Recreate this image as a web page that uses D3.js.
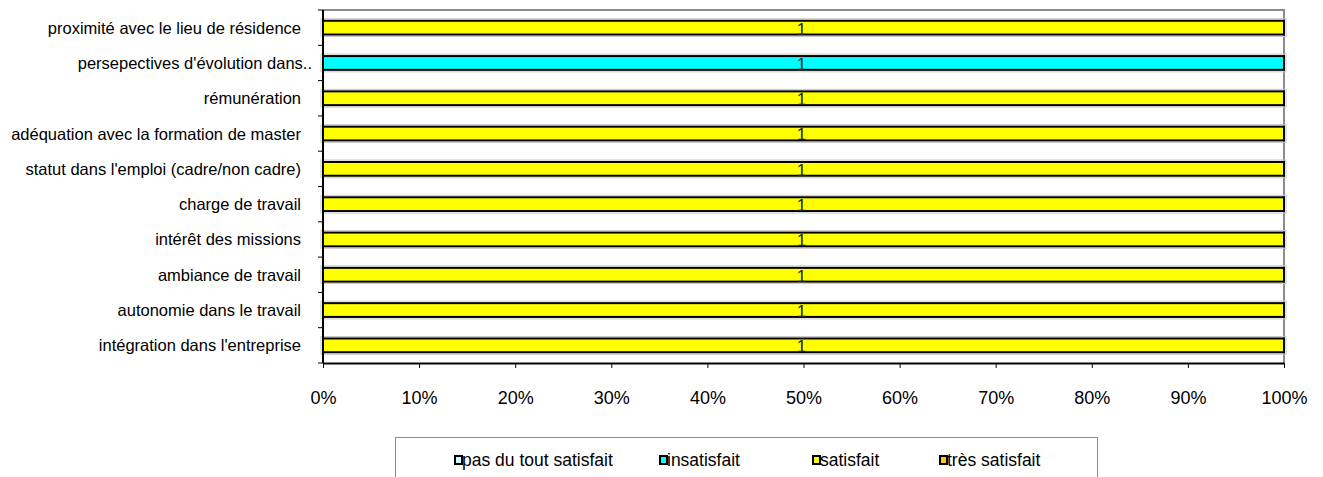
<!DOCTYPE html>
<html>
<head>
<meta charset="utf-8">
<script src="https://cdn.jsdelivr.net/npm/d3@7"></script>
<style>
  body { margin: 0; background: #fff; }
  text { font-family: "Liberation Sans", Arial, sans-serif; }
</style>
</head>
<body>
<svg width="1323" height="477"></svg>
<script>
// categories, top to bottom
const categories = [
  "proximité avec le lieu de résidence",
  "persepectives d'évolution dans..",
  "rémunération",
  "adéquation avec la formation de master",
  "statut dans l'emploi (cadre/non cadre)",
  "charge de travail",
  "intérêt des missions",
  "ambiance de travail",
  "autonomie dans le travail",
  "intégration dans l'entreprise"
];
// series
const seriesNames = ["pas du tout satisfait", "insatisfait", "satisfait", "très satisfait"];
const seriesColors = ["#ccffff", "#00ffff", "#ffff00", "#ffcc00"];
// counts per category for each series
const pasDuTout   = [0, 0, 0, 0, 0, 0, 0, 0, 0, 0];
const insatisfait = [0, 1, 0, 0, 0, 0, 0, 0, 0, 0];
const satisfait   = [1, 0, 1, 1, 1, 1, 1, 1, 1, 1];
const tresSatisf  = [0, 0, 0, 0, 0, 0, 0, 0, 0, 0];
const xTicks = [0, 0.1, 0.2, 0.3, 0.4, 0.5, 0.6, 0.7, 0.8, 0.9, 1];

const table = categories.map((c, i) => ({
  cat: c,
  "pas du tout satisfait": pasDuTout[i],
  "insatisfait": insatisfait[i],
  "satisfait": satisfait[i],
  "très satisfait": tresSatisf[i]
}));

const svg = d3.select("svg");

// plot area
const plotLeft = 323, plotRight = 1284, plotTop = 10, plotBottom = 363;

const x = d3.scaleLinear().domain([0, 1]).range([plotLeft, plotRight]);
const y = d3.scaleBand().domain(categories).range([plotTop, plotBottom])
  .paddingInner(0.61).paddingOuter(0.305);
const color = d3.scaleOrdinal().domain(seriesNames).range(seriesColors);

const stacked = d3.stack().keys(seriesNames).offset(d3.stackOffsetExpand)(table);

// plot border (grey, top + right)
svg.append("path")
  .attr("d", `M${plotLeft},${plotTop}H${plotRight}V${plotBottom}`)
  .attr("fill", "none")
  .attr("stroke", "#8c8c8c")
  .attr("stroke-width", 2);

// bars
const layers = svg.append("g").selectAll("g")
  .data(stacked)
  .join("g")
  .attr("fill", (d) => color(d.key));

layers.selectAll("rect.halo")
  .data((d) => d.filter((s) => s[1] - s[0] > 0))
  .join("rect")
  .attr("class", "halo")
  .attr("x", (d) => x(d[0]) - 2)
  .attr("y", (d) => y(d.data.cat) - 2)
  .attr("width", (d) => x(d[1]) - x(d[0]) + 4)
  .attr("height", y.bandwidth() + 4)
  .attr("fill", "none")
  .attr("stroke", "#c8c8c8")
  .attr("stroke-width", 1);

layers.selectAll("rect.bar")
  .data((d) => d.filter((s) => s[1] - s[0] > 0))
  .join("rect")
  .attr("class", "bar")
  .attr("x", (d) => x(d[0]))
  .attr("y", (d) => y(d.data.cat))
  .attr("width", (d) => x(d[1]) - x(d[0]))
  .attr("height", y.bandwidth())
  .attr("stroke", "#000")
  .attr("stroke-width", 2);

// value labels "1"
stacked.forEach((layer) => {
  svg.append("g").selectAll("text")
    .data(layer.filter((s) => s[1] - s[0] > 0))
    .join("text")
    .attr("x", (d) => x((d[0] + d[1]) / 2) - 2)
    .attr("y", (d) => y(d.data.cat) + y.bandwidth())
    .attr("text-anchor", "middle")
    .attr("font-size", 17)
    .attr("fill", "#222")
    .text((d) => d.data[layer.key]);
});

// left axis
const yAxis = svg.append("g")
  .attr("transform", `translate(${plotLeft},0)`);
yAxis.append("line")
  .attr("x1", 0).attr("x2", 0).attr("y1", plotTop).attr("y2", plotBottom)
  .attr("stroke", "#000").attr("stroke-width", 2);
yAxis.selectAll("line.tick")
  .data(d3.range(categories.length + 1))
  .join("line")
  .attr("class", "tick")
  .attr("x1", -5).attr("x2", 0)
  .attr("y1", (i) => plotTop + i * y.step())
  .attr("y2", (i) => plotTop + i * y.step())
  .attr("stroke", "#000");
yAxis.selectAll("text")
  .data(categories)
  .join("text")
  .attr("x", (d) => d.endsWith("..") ? -11 : -22)
  .attr("y", (d) => y(d) + y.bandwidth() / 2 + 6)
  .attr("text-anchor", "end")
  .attr("font-size", 16.5)
  .attr("fill", "#000")
  .text((d) => d);

// bottom axis
const xAxis = svg.append("g")
  .attr("transform", `translate(0,${plotBottom})`)
  .call(d3.axisBottom(x).tickValues(xTicks).tickFormat(d3.format(".0%"))
    .tickSize(5).tickSizeOuter(0));
xAxis.select(".domain").attr("stroke", "#000").attr("stroke-width", 2);
xAxis.selectAll(".tick line").attr("stroke", "#000");
xAxis.selectAll(".tick text")
  .attr("font-size", 18)
  .attr("font-family", "Liberation Sans, Arial, sans-serif")
  .attr("fill", "#000")
  .attr("dy", "0")
  .attr("y", 41);

// legend
const legend = svg.append("g");
legend.append("rect")
  .attr("x", 395.5).attr("y", 437.5)
  .attr("width", 702).attr("height", 60)
  .attr("fill", "#fff")
  .attr("stroke", "#8c8c8c");
const legendX = [454, 659, 812, 939];
const items = legend.selectAll("g.item")
  .data(seriesNames)
  .join("g")
  .attr("class", "item")
  .attr("transform", (d, i) => `translate(${legendX[i]},460)`);
items.append("rect")
  .attr("x", 1).attr("y", -4)
  .attr("width", 7).attr("height", 8)
  .attr("fill", (d) => color(d))
  .attr("stroke", "#000")
  .attr("stroke-width", 2);
items.append("text")
  .attr("x", 8)
  .attr("y", 6)
  .attr("font-size", 17.5)
  .attr("fill", "#000")
  .text((d) => d);
</script>
</body>
</html>
